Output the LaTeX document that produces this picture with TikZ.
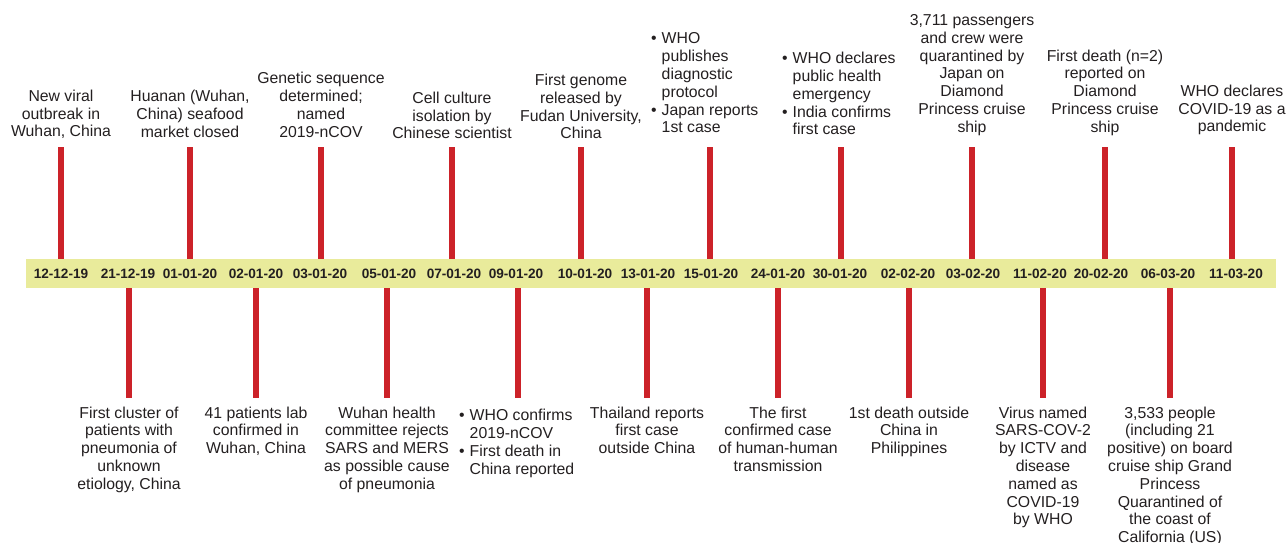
\documentclass[tikz,border=0pt]{standalone}
\usepackage{fontspec}
\setmainfont{Liberation Sans}
\usetikzlibrary{positioning}
\definecolor{tlred}{HTML}{CC2229}
\definecolor{tlband}{HTML}{E9EB9B}
\definecolor{tltext}{HTML}{231F20}
\newcommand{\evfont}{\fontsize{15.8}{17.8}\selectfont}
\newcommand{\tlc}[2]{\begin{tabular}[#1]{@{}c@{}}#2\end{tabular}}
\newcommand{\tll}[2]{\begin{tabular}[#1]{@{}l@{\hspace{5pt}}l@{}}#2\end{tabular}}
\begin{document}
\begin{tikzpicture}[x=1pt,y=-1pt,
  dateband/.style={fill=tlband,minimum width=1250pt,minimum height=29pt,inner sep=0pt},
  datelbl/.style={font=\fontsize{13.6}{15}\selectfont\bfseries,text=tltext,inner sep=0pt},
  evup/.style={anchor=south,inner sep=0pt,font=\evfont,text=tltext},
  evdown/.style={anchor=north,inner sep=0pt,font=\evfont,text=tltext},
  redbar/.style={draw=tlred,line width=6pt}]
\useasboundingbox (0,0) rectangle (1287,543);
\node[dateband] (band) at (651,273.5) {};
\foreach \x/\d [count=\i] in {61/12-12-19,128/21-12-19,190/01-01-20,256/02-01-20,
    320/03-01-20,389/05-01-20,454/07-01-20,516/09-01-20,585/10-01-20,648/13-01-20,
    711/15-01-20,778/24-01-20,840/30-01-20,908/02-02-20,973/03-02-20,1040/11-02-20,
    1101/20-02-20,1168/06-03-20,1236/11-03-20}
  \node[datelbl] (d\i) at (\x,273.5) {\d};
% events above the band
\foreach \i/\x/\y/\txt in {1/61/137/{New viral\\outbreak in\\Wuhan, China},
    3/190/137.5/{Huanan (Wuhan,\\China) seafood\\market closed},
    5/321/137.5/{Genetic sequence\\determined;\\named\\2019-nCOV},
    7/452/139/{Cell culture\\isolation by\\Chinese scientist},
    9/581/139/{First genome\\released by\\Fudan University,\\China},
    15/972/132.5/{3,711 passengers\\and crew were\\quarantined by\\Japan on\\Diamond\\Princess cruise\\ship},
    17/1105/132.5/{First death (n=2)\\reported on\\Diamond\\Princess cruise\\ship},
    19/1232/132/{WHO declares\\COVID-19 as a\\pandemic}}
  \node[evup] (e\i) at (\x,\y+5.34) {\tlc{b}{\txt}};
\node[evup,anchor=south west] (e11) at (651,138.34)
  {\tll{b}{\textbullet & WHO\\ & publishes\\ & diagnostic\\ & protocol\\ \textbullet & Japan reports\\ & 1st case}};
\node[evup,anchor=south west] (e13) at (782,140.34)
  {\tll{b}{\textbullet & WHO declares\\ & public health\\ & emergency\\ \textbullet & India confirms\\ & first case}};
% events below the band
\foreach \i/\x/\txt in {2/129/{First cluster of\\patients with\\pneumonia of\\unknown\\etiology, China},
    4/256/{41 patients lab\\confirmed in\\Wuhan, China},
    6/387/{Wuhan health\\committee rejects\\SARS and MERS\\as possible cause\\of pneumonia},
    10/647/{Thailand reports\\first case\\outside China},
    12/778/{The first\\confirmed case\\of human-human\\transmission},
    14/909/{1st death outside\\China in\\Philippines},
    16/1043/{Virus named\\SARS-COV-2\\by ICTV and\\disease\\named as\\COVID-19\\by WHO},
    18/1170/{3,533 people\\(including 21\\positive) on board\\cruise ship Grand\\Princess\\Quarantined of\\the coast of\\California (US)}}
  \node[evdown] (e\i) at (\x,405.5) {\tlc{t}{\txt}};
\node[evdown,anchor=north west] (e8) at (459,408)
  {\tll{t}{\textbullet & WHO confirms\\ & 2019-nCOV\\ \textbullet & First death in\\ & China reported}};
% bars
\foreach \i/\x in {1/61,3/190,5/321,7/452,9/581,11/710,13/841,15/972,17/1105,19/1232}{
  \coordinate (t\i) at (\x,147);
  \draw[redbar] (t\i) -- (t\i |- band.north);
}
\foreach \i/\x in {2/129,4/256,6/387,8/518,10/647,12/778,14/909,16/1043,18/1170}{
  \coordinate (b\i) at (\x,398);
  \draw[redbar] (band.south -| b\i) -- (b\i);
}
\end{tikzpicture}
\end{document}
